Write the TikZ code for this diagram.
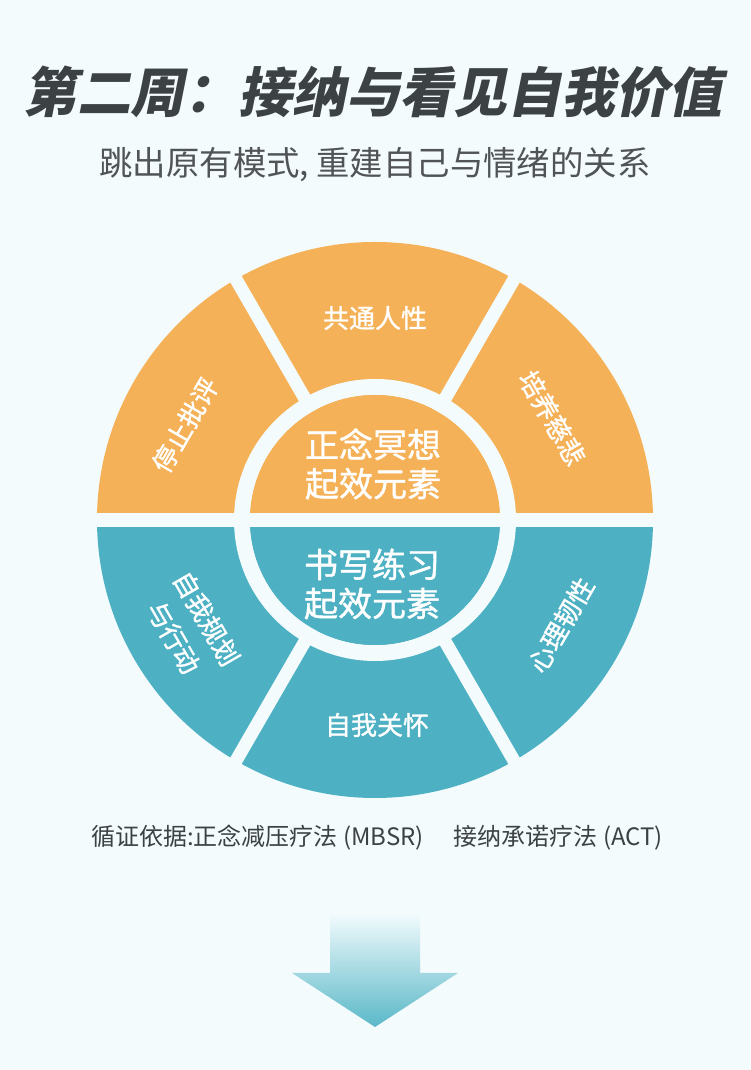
\documentclass[tikz,border=0pt]{standalone}
\usepackage{fontspec}
\setmainfont{Noto Sans CJK SC}
\newfontfamily\titlefont{Noto Sans CJK SC}[FakeSlant=0.2]
\newfontfamily\medfont{Noto Sans CJK SC}[FakeBold=1.2]
\usetikzlibrary{calc}
\definecolor{bgc}{HTML}{F3FBFD}
\definecolor{org}{HTML}{F5B157}
\definecolor{tea}{HTML}{4DB1C3}
\definecolor{ink}{HTML}{3C4144}
\definecolor{arrtop}{HTML}{F0FAFC}
\definecolor{arrbot}{HTML}{5AB8C8}
\begin{document}
\begin{tikzpicture}[x=1pt,y=1pt,
  gap/.style={draw=bgc, line width=13pt},
  seglabel/.style={text=white, font=\medfont\fontsize{26}{38}\selectfont, align=center, inner sep=0pt},
  hublabel/.style={text=white, font=\medfont\fontsize{34}{39}\selectfont, align=center, inner sep=0pt},
]
\useasboundingbox (0,0) rectangle (750,1070);
\fill[bgc] (0,0) rectangle (750,1070);
\coordinate (C) at (375,550);
% wheel
\fill[org] (653,550) arc[start angle=0,end angle=180,radius=278] -- cycle;
\fill[tea] (97,550) arc[start angle=180,end angle=360,radius=278] -- cycle;
\foreach \a in {60,120,240,300} \draw[gap] (C) -- ++(\a:290);
\draw[bgc, line width=16pt] (C) circle[radius=133];
\fill[org] (500,550) arc[start angle=0,end angle=180,radius=125] -- cycle;
\fill[tea] (250,550) arc[start angle=180,end angle=360,radius=125] -- cycle;
\draw[draw=bgc, line width=14.5pt] (85,550) -- (665,550);
% labels
\node[hublabel] (hubT) at (373,606) {正念冥想\\起效元素};
\node[hublabel] (hubB) at (372,486) {书写练习\\起效元素};
\node[seglabel, rotate=60] (s1) at (185,645) {停止批评};
\node[seglabel] (s2) at (375,752) {共通人性};
\node[seglabel, rotate=-60] (s3) at (552,652) {培养慈悲};
\node[seglabel, rotate=-60] (s4) at (190,442) {自我规划\\与行动};
\node[seglabel] (s5) at (377,345) {自我关怀};
\node[seglabel, rotate=60] (s6) at (561,445) {心理韧性};
% titles
\node[text=ink, font=\titlefont\bfseries\fontsize{53.8}{60}\selectfont, inner sep=0pt] (title) at (373,978) {第二周：接纳与看见自我价值};
\node[text=ink!90, font=\fontsize{33.4}{38}\selectfont, inner sep=0pt] (sub) at (375,905) {跳出原有模式, 重建自己与情绪的关系};
\node[text=ink, font=\fontsize{24}{28}\selectfont, inner sep=0pt] (note) at (377,232) {循证依据:正念减压疗法 (MBSR)\hspace{30pt}接纳承诺疗法 (ACT)};
% arrow
\shade[top color=arrtop, bottom color=arrbot] (330,155) -- (420,155) -- (420,97) -- (458,97) -- (375,43) -- (292,97) -- (330,97) -- cycle;
\end{tikzpicture}
\end{document}
